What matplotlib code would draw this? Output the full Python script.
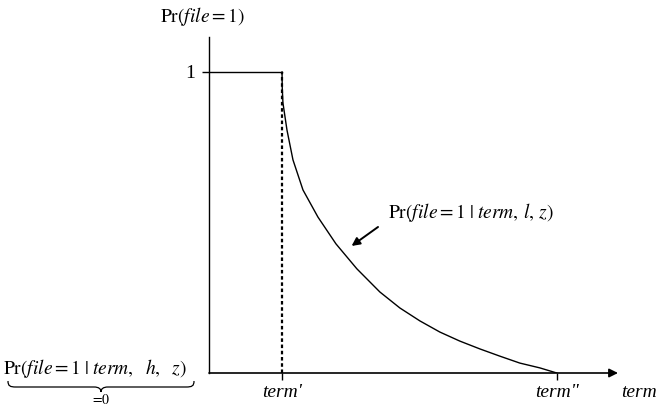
import matplotlib.pyplot as plt
from matplotlib.path import Path
from matplotlib.patches import PathPatch

plt.rcParams['font.family'] = ['Liberation Serif', 'DejaVu Serif']
plt.rcParams['mathtext.fontset'] = 'stix'

W, H = 656, 409

# term axis in arbitrary units
term_prime = 1.05
term_dprime = 5.0
term_end = 5.88
pr_top = 1.116

# decaying branch Pr(file=1 | term, l, z) between term' and term''
curve_x = [1.05, 1.053, 1.063, 1.121, 1.207, 1.351, 1.566, 1.825, 2.126,
           2.457, 2.744, 3.032, 3.319, 3.606, 3.894, 4.181, 4.468, 4.756,
           5.0]
curve_y = [1.0, 0.947, 0.897, 0.807, 0.708, 0.608, 0.518, 0.429, 0.346,
           0.269, 0.216, 0.173, 0.136, 0.106, 0.080, 0.056, 0.033, 0.017,
           0.0]

xtick_pos = [term_prime, term_dprime]
xtick_labels = ["term'", 'term"']


def fpx(x, y):
    # pixel position (from top-left) -> figure fraction
    return x / W, 1 - y / H


fig = plt.figure(figsize=(W / 100, H / 100), dpi=100)
ax = fig.add_axes([209 / W, 36 / H, 409 / W, 336 / H])
ax.set_xlim(0, term_end)
ax.set_ylim(0, pr_top)

for s in ['top', 'right', 'bottom']:
    ax.spines[s].set_visible(False)
ax.spines['left'].set_linewidth(1.0)

# flat part, dashed drop at term', curve
ax.plot([0, term_prime], [1, 1], color='k', lw=1.0)
ax.plot([term_prime, term_prime], [0, 1], color='k', lw=1.6,
        ls=(0, (1.6, 1.2)))
ax.plot(curve_x, curve_y, color='k', lw=1.0, solid_joinstyle='round')

# x axis with arrowhead
ax.annotate('', xy=(term_end, 0), xytext=(0, 0),
            arrowprops=dict(arrowstyle='-|>', color='k', lw=1.2,
                            mutation_scale=13, shrinkA=0, shrinkB=0),
            annotation_clip=False)

ax.set_yticks([1])
ax.set_yticklabels(['1'], fontsize=14)
ax.tick_params(axis='y', length=5, width=1, pad=5)
ax.set_xticks(xtick_pos)
ax.set_xticklabels(xtick_labels, fontsize=14, fontstyle='italic')
ax.tick_params(axis='x', length=5, width=1, pad=3)

ax.text(term_end + 0.05, -0.065, 'term', fontsize=14, fontstyle='italic',
        ha='left', va='center', clip_on=False)

fig.text(*fpx(203, 17), r'$\mathrm{Pr}\left(\mathit{file}=1\right)$',
         fontsize=14, ha='center', va='center')

ax.text(2.57, 0.532,
        r'$\mathrm{Pr}\left(\mathit{file}=1\;|\;\mathit{term},\,l,\,z\right)$',
        fontsize=14, ha='left', va='center')
ax.annotate('', xy=(2.05, 0.422), xytext=(2.43, 0.485),
            arrowprops=dict(arrowstyle='-|>', color='k', lw=1.4,
                            mutation_scale=12, shrinkA=0, shrinkB=0))

# label under the origin with an underbrace
fig.text(*fpx(3, 369),
         r'$\mathrm{Pr}\left(\mathit{file}=1\;|\;\mathit{term},\ \ h,\ \ z\right)$',
         fontsize=14, ha='left', va='center')
brace = [(8, 381), (8, 386), (10, 387), (16, 387),
         (94, 387),
         (99, 387), (101, 389), (101, 392),
         (101, 389), (103, 387), (108, 387),
         (186, 387),
         (192, 387), (194, 386), (194, 381)]
codes = [Path.MOVETO, Path.CURVE4, Path.CURVE4, Path.CURVE4,
         Path.LINETO,
         Path.CURVE4, Path.CURVE4, Path.CURVE4,
         Path.CURVE4, Path.CURVE4, Path.CURVE4,
         Path.LINETO,
         Path.CURVE4, Path.CURVE4, Path.CURVE4]
brace_path = Path([fpx(x, y) for x, y in brace], codes)
fig.add_artist(PathPatch(brace_path, transform=fig.transFigure,
                         fill=False, lw=0.9, color='k'))
fig.text(*fpx(100, 400), r'$=\!0$', fontsize=10, ha='center', va='center')

fig.savefig('out.png', dpi=100)
